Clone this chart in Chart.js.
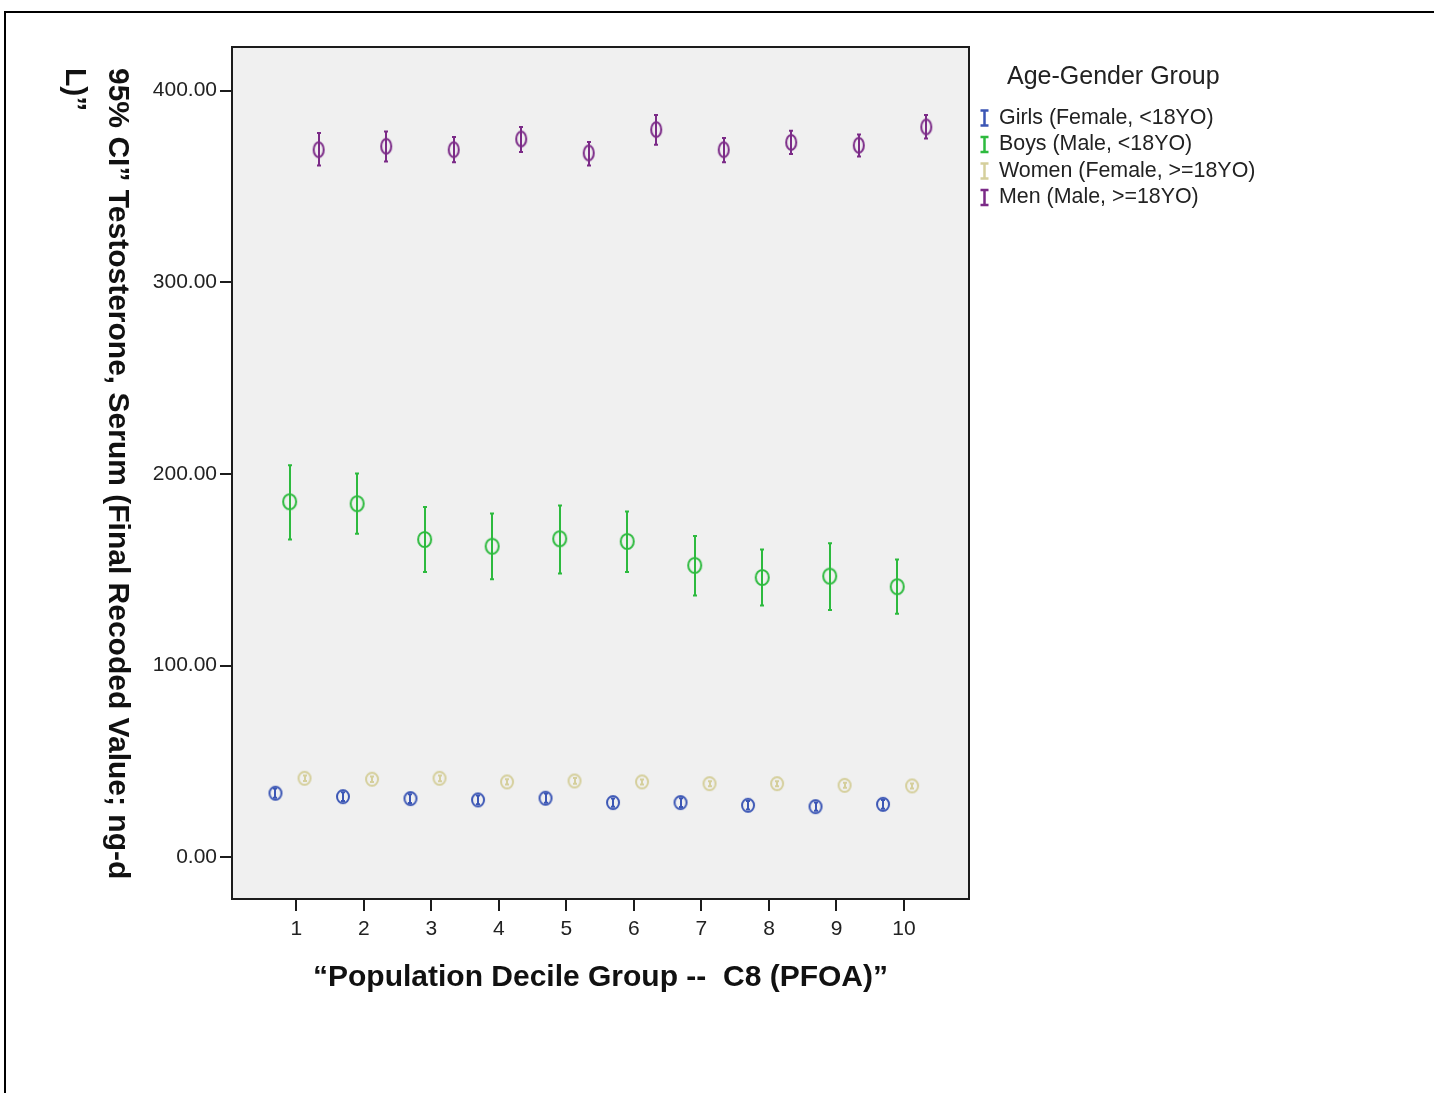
<!DOCTYPE html>
<html>
<head>
<meta charset="utf-8">
<script src="https://cdn.jsdelivr.net/npm/chart.js@4.4.0/dist/chart.umd.min.js"></script>
<style>
  html, body { margin: 0; padding: 0; background: #fff; overflow: hidden; }
  #frame { position: absolute; left: 4px; top: 11px; width: 1440px; height: 1100px; border: 2px solid #000; }
  #wrap { position: absolute; left: 0; top: 0; width: 1434px; height: 1093px; }
</style>
</head>
<body>
<div id="frame"></div>
<div id="wrap"><canvas id="chart" width="1434" height="1093"></canvas></div>
<script>
// Deciles on the x axis and y tick values
const deciles = [1, 2, 3, 4, 5, 6, 7, 8, 9, 10];
const yTicks = [0, 100, 200, 300, 400];
const groupNames = ['Girls (Female, <18YO)', 'Boys (Male, <18YO)', 'Women (Female, >=18YO)', 'Men (Male, >=18YO)'];

// Mean and 95% CI per decile
const girlsMean = [33.4, 31.6, 30.6, 29.9, 30.8, 28.5, 28.5, 27.1, 26.4, 27.6];
const girlsLow  = [31.0, 29.3, 28.3, 27.6, 28.4, 26.3, 26.2, 24.9, 24.3, 25.3];
const girlsHigh = [35.8, 33.9, 32.9, 32.2, 33.2, 30.7, 30.8, 29.3, 28.5, 29.9];

const boysMean = [185.5, 184.5, 165.8, 162.3, 166.2, 164.8, 152.3, 146.0, 146.7, 141.2];
const boysLow  = [165.8, 168.8, 148.8, 145.0, 148.1, 148.8, 136.6, 131.4, 129.0, 127.1];
const boysHigh = [204.6, 200.3, 182.7, 179.4, 183.6, 180.4, 167.6, 160.6, 163.8, 155.4];

const womenMean = [41.2, 40.7, 41.2, 39.3, 39.8, 39.3, 38.4, 38.4, 37.5, 37.2];
const womenLow  = [39.8, 39.3, 39.7, 37.9, 38.3, 38.0, 37.1, 37.1, 36.2, 35.9];
const womenHigh = [42.6, 42.1, 42.7, 40.7, 41.3, 40.6, 39.7, 39.7, 38.8, 38.5];

const menMean = [369.2, 371.0, 369.2, 374.8, 367.5, 379.7, 369.2, 373.0, 371.5, 381.1];
const menLow  = [360.9, 363.1, 362.6, 368.0, 360.9, 371.8, 362.6, 367.0, 365.7, 375.0];
const menHigh = [377.9, 378.7, 375.8, 381.1, 373.2, 387.3, 375.3, 379.1, 377.1, 387.3];

const FONT = '"Liberation Sans", Arial, sans-serif';
const colors = ['#3b56b5', '#2dba3e', '#d5cf9c', '#7b2a87'];
const clusterOffset = [-0.31, -0.10, 0.12, 0.33];
const ringSize = [[6, 6.5], [6.5, 7.5], [6, 6.5], [5, 7.5]];

// open ellipse used as the point marker
function ring(color, rx, ry) {
    const c = document.createElement('canvas');
    c.width = Math.ceil(rx * 2 + 4);
    c.height = Math.ceil(ry * 2 + 4);
    const g = c.getContext('2d');
    g.strokeStyle = color;
    g.lineWidth = 2;
    g.beginPath();
    g.ellipse(c.width / 2, c.height / 2, rx, ry, 0, 0, Math.PI * 2);
    g.stroke();
    return c;
}

function series(idx, mean, low, high) {
    return {
        label: groupNames[idx],
        data: deciles.map((d, i) => ({ x: d + clusterOffset[idx], y: mean[i], lo: low[i], hi: high[i] })),
        borderColor: colors[idx],
        backgroundColor: colors[idx],
        pointStyle: ring(colors[idx], ringSize[idx][0], ringSize[idx][1]),
        pointRadius: 7,
        showLine: false
    };
}

// plot background and frame
const plotFrame = {
    id: 'plotFrame',
    beforeDraw(chart) {
        const a = chart.chartArea, ctx = chart.ctx;
        ctx.save();
        ctx.fillStyle = '#f0f0f0';
        ctx.fillRect(a.left, a.top, a.right - a.left, a.bottom - a.top);
        ctx.restore();
    },
    afterDraw(chart) {
        const a = chart.chartArea, ctx = chart.ctx;
        ctx.save();
        ctx.strokeStyle = '#1c1c1c';
        ctx.lineWidth = 2;
        ctx.strokeRect(a.left, a.top, a.right - a.left, a.bottom - a.top);
        ctx.restore();
    }
};

// 95% CI whiskers
const errorBars = {
    id: 'errorBars',
    afterDatasetsDraw(chart) {
        const ctx = chart.ctx, x = chart.scales.x, y = chart.scales.y;
        chart.data.datasets.forEach(ds => {
            ctx.save();
            ctx.strokeStyle = ds.borderColor;
            ctx.lineWidth = 2;
            ds.data.forEach(p => {
                const px = Math.round(x.getPixelForValue(p.x));
                const top = y.getPixelForValue(p.hi), bot = y.getPixelForValue(p.lo);
                ctx.beginPath();
                ctx.moveTo(px, top); ctx.lineTo(px, bot);
                ctx.moveTo(px - 2, top); ctx.lineTo(px + 2, top);
                ctx.moveTo(px - 2, bot); ctx.lineTo(px + 2, bot);
                ctx.stroke();
            });
            ctx.restore();
        });
    }
};

// y title reads top-to-bottom in the original, so it is drawn here
const yTitle = {
    id: 'yTitle',
    afterDraw(chart) {
        const ctx = chart.ctx;
        ctx.save();
        ctx.translate(109, 68);
        ctx.rotate(Math.PI / 2);
        ctx.fillStyle = '#111';
        ctx.font = 'bold 30px ' + FONT;
        ctx.textAlign = 'left';
        ctx.textBaseline = 'alphabetic';
        ctx.fillText('95% CI\u201D Testosterone, Serum (Final Recoded Value; ng-d', 0, 0);
        ctx.fillText('L)\u201D', 0, 43);
        ctx.restore();
    }
};

// legend on the right
const sideLegend = {
    id: 'sideLegend',
    afterDraw(chart) {
        const ctx = chart.ctx;
        ctx.save();
        ctx.fillStyle = '#222';
        ctx.textBaseline = 'middle';
        ctx.font = '25px ' + FONT;
        ctx.fillText('Age-Gender Group', 1007, 77);
        ctx.font = '21.4px ' + FONT;
        chart.data.datasets.forEach((ds, i) => {
            const cy = 118 + i * 26.5;
            ctx.strokeStyle = ds.borderColor;
            ctx.lineWidth = 2.5;
            ctx.beginPath();
            ctx.moveTo(984.5, cy - 8); ctx.lineTo(984.5, cy + 8);
            ctx.moveTo(980.5, cy - 7.5); ctx.lineTo(988.5, cy - 7.5);
            ctx.moveTo(980.5, cy + 7.5); ctx.lineTo(988.5, cy + 7.5);
            ctx.stroke();
            ctx.fillStyle = '#222';
            ctx.fillText(ds.label, 999, cy);
        });
        ctx.restore();
    }
};

new Chart(document.getElementById('chart').getContext('2d'), {
    type: 'scatter',
    data: {
        datasets: [
            series(0, girlsMean, girlsLow, girlsHigh),
            series(1, boysMean, boysLow, boysHigh),
            series(2, womenMean, womenLow, womenHigh),
            series(3, menMean, menLow, menHigh)
        ]
    },
    options: {
        responsive: false,
        animation: false,
        devicePixelRatio: 1,
        layout: { padding: { left: 0, top: 47, right: 465, bottom: 0 } },
        plugins: { legend: { display: false }, tooltip: { enabled: false } },
        scales: {
            x: {
                type: 'linear',
                min: 0.046,
                max: 10.963,
                afterFit(s) { s.height = 194; },
                afterBuildTicks(s) { s.ticks = deciles.map(v => ({ value: v })); },
                border: { display: false },
                grid: { display: true, drawOnChartArea: false, drawTicks: true, tickLength: 12, color: '#1c1c1c', lineWidth: 2 },
                ticks: { padding: 6, color: '#222', font: { family: FONT, size: 21 }, callback: v => String(v) },
                title: {
                    display: true,
                    text: '\u201CPopulation Decile Group --  C8 (PFOA)\u201D',
                    color: '#111',
                    font: { family: FONT, size: 30, weight: 'bold' },
                    padding: { top: 0, bottom: 97 }
                }
            },
            y: {
                min: -21.8,
                max: 422.8,
                afterFit(s) { s.width = 232; },
                afterBuildTicks(s) { s.ticks = yTicks.map(v => ({ value: v })); },
                border: { display: false },
                grid: { display: true, drawOnChartArea: false, drawTicks: true, tickLength: 12, color: '#1c1c1c', lineWidth: 2 },
                ticks: { padding: 3, color: '#222', font: { family: FONT, size: 21 }, callback: v => v.toFixed(2) }
            }
        }
    },
    plugins: [plotFrame, errorBars, yTitle, sideLegend]
});
</script>
</body>
</html>
